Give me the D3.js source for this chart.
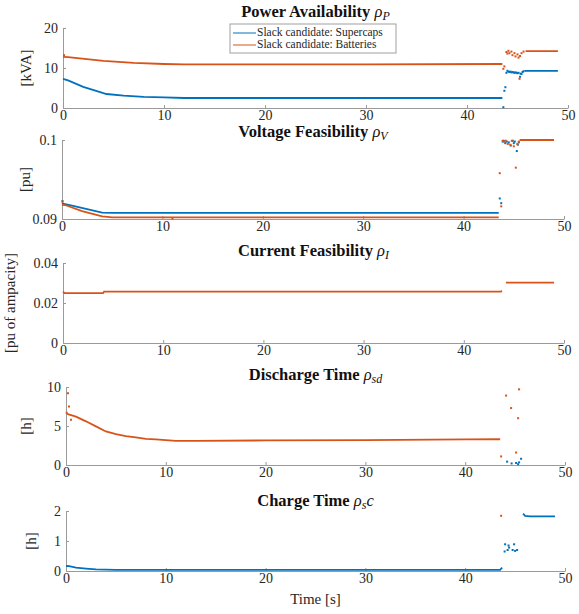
<!DOCTYPE html>
<html>
<head>
<meta charset="utf-8">
<script src="https://cdn.jsdelivr.net/npm/d3@7"></script>
<style>
  body { margin: 0; background: #fff; }
  text { font-family: "Liberation Serif", "DejaVu Serif", serif; }
</style>
</head>
<body>
<div id="chart"></div>
<script>
// ---- data ----
const timeTicks = [0, 10, 20, 30, 40, 50];
const seriesNames = ['Slack candidate: Supercaps', 'Slack candidate: Batteries'];

// power availability [kVA]
const powerTicks = [0, 10, 20];
const powerSupercaps = [[0, 7.3], [0.5, 6.9], [2, 5.3], [4, 3.7], [4.3, 3.5], [6, 3.1], [8, 2.8], [10, 2.65], [12, 2.5], [20, 2.5], [30, 2.5], [43.5, 2.5], [43.5, null], [45.7, 9.2], [45.8, 9.3], [49, 9.3]];
const powerSupercapsDots = [[43.6, 0.2], [43.7, 4.3], [43.8, 5.2], [43.9, 8.8], [44.0, 9.3], [44.1, 9.1], [44.2, 9.0], [44.3, 9.1], [44.4, 8.9], [44.5, 9.0], [44.6, 8.9], [44.7, 8.8], [44.8, 8.9], [44.9, 8.8], [45.0, 8.7], [45.1, 8.8], [45.25, 7.8], [45.3, 8.6], [45.4, 8.5], [45.5, 9.0], [45.6, 9.2]];
const powerBatteries = [[0, 12.8], [0.5, 12.7], [4, 11.8], [7, 11.3], [10, 11.0], [12, 10.9], [20, 10.9], [30, 10.9], [43.5, 11.0], [43.5, null], [45.8, 14.2], [49, 14.2]];
const powerBatteriesDots = [[0.1, 13.2], [43.6, 9.8], [43.7, 10.4], [43.9, 14.0], [44.0, 13.6], [44.1, 14.3], [44.2, 13.7], [44.4, 14.1], [44.5, 13.2], [44.7, 13.7], [44.8, 12.9], [45.0, 13.4], [45.1, 12.6], [45.2, 7.3], [45.25, 13.0], [45.4, 13.7], [45.6, 14.1]];

// voltage feasibility [pu]
const voltageTicks = [0.09, 0.1];
const voltageSupercaps = [[0, 0.0920], [0.2, 0.0919], [1, 0.0917], [4, 0.0908], [5, 0.09078], [43.5, 0.09078], [43.5, null], [45.6, 0.1], [49, 0.1]];
const voltageSupercapsDots = [[0.05, 0.09226], [43.6, 0.0926], [43.75, 0.0920], [43.9, 0.0998], [44.0, 0.0999], [44.15, 0.0996], [44.3, 0.0998], [44.5, 0.0997], [44.7, 0.0993], [44.9, 0.0999], [45.0, 0.0996], [45.1, 0.0998], [45.3, 0.0986], [45.4, 0.0994], [45.5, 0.0997]];
const voltageBatteries = [[0, 0.0918], [0.3, 0.09177], [2, 0.0910], [4, 0.09033], [5, 0.0902], [43.5, 0.0902], [43.5, null], [45.6, 0.1], [49, 0.1]];
const voltageBatteriesDots = [[0.05, 0.0922], [11, 0.09005], [43.6, 0.0958], [43.75, 0.0916], [43.9, 0.0999], [44.05, 0.0998], [44.2, 0.0999], [44.4, 0.0995], [44.65, 0.0994], [44.8, 0.0999], [45.0, 0.0992], [45.2, 0.0965], [45.35, 0.0995], [45.5, 0.0998]];

// current feasibility [pu of ampacity]
const currentTicks = [0, 0.02, 0.04];
const currentBatteries = [[0, 0.0257], [0.15, 0.0249], [4, 0.0249], [4.1, 0.0257], [43.7, 0.0257], [43.8, 0.0261], [43.8, null], [44.2, 0.0302], [49, 0.0302]];
const currentBatteriesDots = [];

// discharge time [h]
const dischargeTicks = [0, 5, 10];
const dischargeBatteries = [[0.1, 6.55], [1, 6.2], [2, 5.6], [3, 4.95], [4, 4.3], [5, 3.97], [6, 3.7], [7, 3.53], [8, 3.36], [9, 3.28], [10, 3.19], [11, 3.1], [13, 3.1], [20, 3.15], [30, 3.19], [40, 3.28], [43.5, 3.3]];
const dischargeBatteriesDots = [[0.07, 6.7], [0.2, 9.2], [0.3, 7.5], [0.5, 5.8], [43.6, 1.1], [44.1, 8.9], [44.6, 7.3], [45.1, 1.6], [45.3, 6.0], [45.4, 9.7]];
const dischargeSupercapsDots = [[44.2, 0.43], [44.65, 0.2], [45.1, 0.26], [45.3, 0.1], [45.4, 0.34], [45.6, 0.8]];

// charge time [h]
const chargeTicks = [0, 1, 2];
const chargeSupercaps = [[0, 0.16], [0.2, 0.17], [1, 0.11], [2, 0.08], [3, 0.055], [4, 0.045], [5, 0.04], [43.5, 0.04], [43.7, 0.11], [43.7, null], [45.8, 1.91], [46, 1.84], [46.5, 1.82], [49, 1.82]];
const chargeSupercapsDots = [[43.95, 0.65], [44.0, 0.89], [44.25, 0.70], [44.34, 0.85], [44.4, 0.78], [44.75, 0.70], [44.9, 0.89], [45.0, 0.67], [45.2, 0.70]];
const chargeBatteriesDots = [[43.6, 1.84]];

// ---- drawing ----
const blue = '#0072bd', orange = '#d95319';
const svg = d3.select('#chart').append('svg')
  .attr('width', 579)
  .attr('height', 614);

const panels = [
  { title: 'Power Availability ', sym: 'P', post: '', titleY: 13, top: 28, bottom: 108, left: 63, right: 568,
    domain: [0, 20], ticks: powerTicks, ylabel: '[kVA]', ylabelX: 28,
    lines: [[powerSupercaps, blue], [powerBatteries, orange]],
    dots: [[powerSupercapsDots, blue], [powerBatteriesDots, orange]], legend: true },
  { title: 'Voltage Feasibility ', sym: 'V', post: '', titleY: 133, top: 140, bottom: 219, left: 62, right: 564,
    domain: [0.09, 0.1], ticks: voltageTicks, ylabel: '[pu]', ylabelX: 27,
    lines: [[voltageSupercaps, blue], [voltageBatteries, orange]],
    dots: [[voltageSupercapsDots, blue], [voltageBatteriesDots, orange]] },
  { title: 'Current Feasibility ', sym: 'I', post: '', titleY: 252, top: 263, bottom: 343, left: 63, right: 564,
    domain: [0, 0.04], ticks: currentTicks, ylabel: '[pu of ampacity]', ylabelX: 12,
    lines: [[currentBatteries, orange]],
    dots: [[currentBatteriesDots, orange]] },
  { title: 'Discharge Time ', sym: 'sd', post: '', titleY: 376, top: 387, bottom: 465, left: 66, right: 565,
    domain: [0, 10], ticks: dischargeTicks, ylabel: '[h]', ylabelX: 28,
    lines: [[dischargeBatteries, orange]],
    dots: [[dischargeBatteriesDots, orange], [dischargeSupercapsDots, blue]] },
  { title: 'Charge Time ', sym: 's', post: 'c', titleY: 502, top: 511, bottom: 571, left: 66, right: 565,
    domain: [0, 2], ticks: chargeTicks, ylabel: '[h]', ylabelX: 33,
    lines: [[chargeSupercaps, blue]],
    dots: [[chargeSupercapsDots, blue], [chargeBatteriesDots, orange]], xlabel: 'Time [s]' }
];

panels.forEach(p => {
  const x = d3.scaleLinear().domain([0, 50]).range([p.left, p.right]);
  const y = d3.scaleLinear().domain(p.domain).range([p.bottom, p.top]);
  const g = svg.append('g');

  const xAxis = g.append('g')
    .attr('transform', `translate(0,${p.bottom})`)
    .call(d3.axisBottom(x).tickValues(timeTicks).tickSize(-3).tickSizeOuter(0).tickPadding(2));
  const yAxis = g.append('g')
    .attr('transform', `translate(${p.left},0)`)
    .call(d3.axisLeft(y).tickValues(p.ticks).tickFormat(d => String(d)).tickSize(-3).tickSizeOuter(0).tickPadding(5));
  [xAxis, yAxis].forEach(a => {
    a.select('.domain').attr('stroke', '#9a9a9a');
    a.selectAll('.tick line').attr('stroke', '#9a9a9a');
    a.selectAll('.tick text').attr('fill', '#262626').style('font-size', '14px')
      .style('font-family', '"Liberation Serif", serif');
  });

  const line = d3.line()
    .defined(d => d[1] != null)
    .x(d => x(d[0]))
    .y(d => y(d[1]));

  p.lines.forEach(([data, color]) => {
    g.append('path')
      .datum(data)
      .attr('d', line)
      .attr('fill', 'none')
      .attr('stroke', color)
      .attr('stroke-width', 1.8);
  });

  p.dots.forEach(([data, color]) => {
    g.selectAll(null)
      .data(data)
      .join('rect')
      .attr('x', d => x(d[0]) - 1)
      .attr('y', d => y(d[1]) - 1)
      .attr('width', 2)
      .attr('height', 2)
      .attr('fill', color);
  });

  // title with math symbol
  const t = g.append('text')
    .attr('x', (p.left + p.right) / 2)
    .attr('y', p.titleY)
    .attr('text-anchor', 'middle')
    .attr('dominant-baseline', 'middle')
    .attr('fill', '#111')
    .style('font-size', '16.5px');
  t.append('tspan').attr('font-weight', 'bold').text(p.title);
  t.append('tspan').attr('font-style', 'italic').text('ρ');
  t.append('tspan').attr('font-style', 'italic').attr('dy', 4).style('font-size', '12px').text(p.sym);
  if (p.post) t.append('tspan').attr('font-style', 'italic').attr('dy', -4).text(p.post);

  g.append('text')
    .attr('transform', `translate(${p.ylabelX},${(p.top + p.bottom) / 2}) rotate(-90)`)
    .attr('text-anchor', 'middle')
    .attr('dominant-baseline', 'middle')
    .attr('fill', '#262626')
    .style('font-size', '15px')
    .text(p.ylabel);

  if (p.xlabel) {
    g.append('text')
      .attr('x', (p.left + p.right) / 2)
      .attr('y', p.bottom + 30)
      .attr('text-anchor', 'middle')
      .attr('dominant-baseline', 'middle')
      .attr('fill', '#262626')
      .style('font-size', '15px')
      .text(p.xlabel);
  }

  if (p.legend) {
    const lg = g.append('g').attr('transform', 'translate(230,24)');
    lg.append('rect')
      .attr('width', 166).attr('height', 29)
      .attr('fill', '#fff').attr('stroke', '#a0a0a0').attr('stroke-width', 1);
    [blue, orange].forEach((c, i) => {
      lg.append('line')
        .attr('x1', 3).attr('x2', 26)
        .attr('y1', 9 + i * 12).attr('y2', 9 + i * 12)
        .attr('stroke', c).attr('stroke-width', 1);
      lg.append('text')
        .attr('x', 27).attr('y', 9 + i * 12)
        .attr('dominant-baseline', 'middle')
        .attr('fill', '#262626')
        .style('font-size', '11.5px')
        .text(seriesNames[i]);
    });
  }
});
</script>
</body>
</html>
